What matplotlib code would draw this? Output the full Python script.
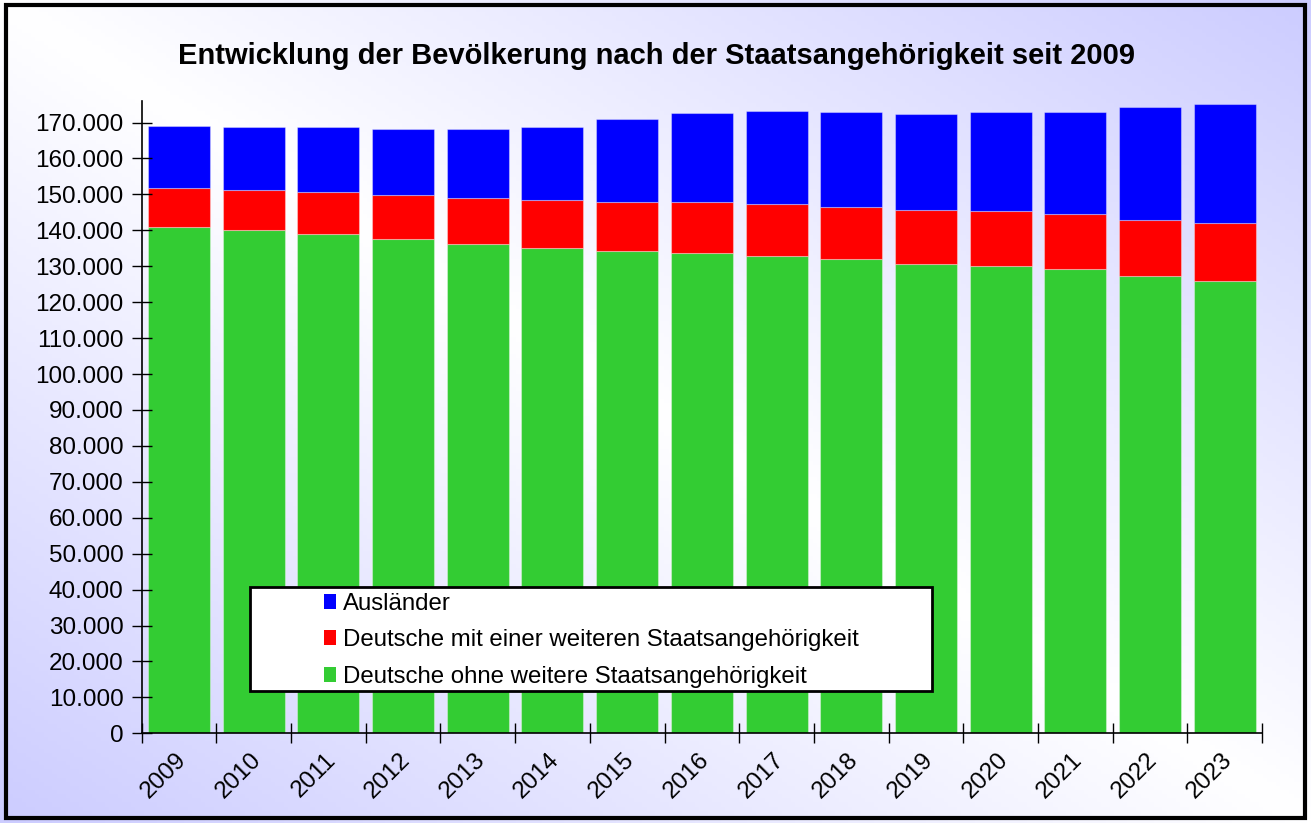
import numpy as np
import matplotlib
matplotlib.use("Agg")
import matplotlib.pyplot as plt
from matplotlib.patches import Rectangle, Patch
from matplotlib.ticker import FuncFormatter
from matplotlib.transforms import ScaledTranslation

# data
years = ["2009", "2010", "2011", "2012", "2013", "2014", "2015", "2016",
         "2017", "2018", "2019", "2020", "2021", "2022", "2023"]
ohne = [141000, 140100, 138900, 137500, 136200, 135100, 134300, 133700,
        132900, 132000, 130600, 130100, 129200, 127300, 125900]
mit = [10700, 11200, 11700, 12300, 12700, 13300, 13600, 14100,
       14500, 14400, 15000, 15200, 15400, 15500, 16200]
auslaender = [17300, 17500, 18100, 18400, 19400, 20300, 23100, 24900,
              25800, 26500, 26900, 27600, 28200, 31500, 33100]

labels = ["Ausländer",
          "Deutsche mit einer weiteren Staatsangehörigkeit",
          "Deutsche ohne weitere Staatsangehörigkeit"]
colors = ["#0000FF", "#FF0000", "#33CC33"]

plt.rcParams['font.family'] = ['Liberation Sans', 'DejaVu Sans']

W, H = 1311, 823
fig = plt.figure(figsize=(W / 100, H / 100), dpi=100)

# background gradient: white on the main diagonal, lavender at the other corners
bg = fig.add_axes([0, 0, 1, 1])
u = np.linspace(0, 1, 300)
v = np.linspace(0, 1, 200)
U, V = np.meshgrid(u, v)
t = np.abs(U - V)
white = np.array([1.0, 1.0, 1.0])
lav = np.array([0.80, 0.80, 1.0])
img = white[None, None, :] * (1 - t[..., None]) + lav[None, None, :] * t[..., None]
bg.imshow(img, extent=[0, 1, 0, 1], aspect='auto', origin='upper')
bg.set_xlim(0, 1)
bg.set_ylim(0, 1)
bg.axis('off')
# outer frame
bg.add_patch(Rectangle((6 / W, 1 - 818 / H), 1299 / W, 813 / H,
                       fill=False, edgecolor='black', linewidth=3))

# plot area
ax = fig.add_axes([141.7 / W, 1 - 733.3 / H, 1120.3 / W, 632.3 / H])
ax.patch.set_alpha(0)

x = np.arange(len(years))
bw = 0.83
ax.bar(x, ohne, width=bw, color=colors[2], edgecolor=(1, 1, 1, 0.35), linewidth=0.8)
ax.bar(x, mit, width=bw, bottom=ohne, color=colors[1], edgecolor=(1, 1, 1, 0.35), linewidth=0.8)
bottom2 = np.array(ohne) + np.array(mit)
ax.bar(x, auslaender, width=bw, bottom=bottom2, color=colors[0], edgecolor=(1, 1, 1, 0.35), linewidth=0.8)

ax.set_xlim(-0.5, len(years) - 0.5)
ax.set_ylim(0, 176000)

# y axis
ax.set_yticks(np.arange(0, 170001, 10000))
ax.yaxis.set_major_formatter(FuncFormatter(lambda val, pos: f"{int(val):,}".replace(",", ".")))
ax.tick_params(axis='y', direction='inout', length=14, width=1, labelsize=17.5, pad=6)

# x axis: ticks between categories, labels at the centre
ax.set_xticks(np.arange(-0.5, len(years), 1.0))
ax.set_xticklabels([])
ax.set_xticks(x, minor=True)
ax.set_xticklabels(years, minor=True, rotation=45, ha='right', rotation_mode='anchor')
ax.tick_params(axis='x', which='major', direction='inout', length=14, width=1)
ax.tick_params(axis='x', which='minor', length=0, labelsize=17.5, pad=11)
shift = ScaledTranslation(-4 / 100, 0, fig.dpi_scale_trans)
for lab in ax.get_xticklabels(minor=True):
    lab.set_transform(lab.get_transform() + shift)

for side in ['top', 'right']:
    ax.spines[side].set_visible(False)
for side in ['left', 'bottom']:
    ax.spines[side].set_linewidth(1.2)

# legend box
x0 = (250 - 141.7) / 1120.3
x1 = (932 - 141.7) / 1120.3
y0 = (733.3 - 691) / 632.3
y1 = (733.3 - 587) / 632.3
ax.add_patch(Rectangle((x0, y0), x1 - x0, y1 - y0, transform=ax.transAxes,
                       facecolor='white', edgecolor='black', linewidth=2, zorder=5))
handles = [Patch(facecolor=c) for c in colors]
leg = ax.legend(handles, labels, loc='upper left',
                bbox_to_anchor=((324 - 141.7) / 1120.3, (733.3 - 593) / 632.3),
                frameon=False, fontsize=17.3, handlelength=0.52, handleheight=0.58,
                handletextpad=0.25, labelspacing=0.6, borderpad=0, borderaxespad=0)
leg.set_zorder(6)

# title
fig.text(656.5 / W, 1 - 56 / H, "Entwicklung der Bevölkerung nach der Staatsangehörigkeit seit 2009",
         ha='center', va='center', fontsize=21, fontweight='bold')

fig.savefig("out.png", dpi=100)
